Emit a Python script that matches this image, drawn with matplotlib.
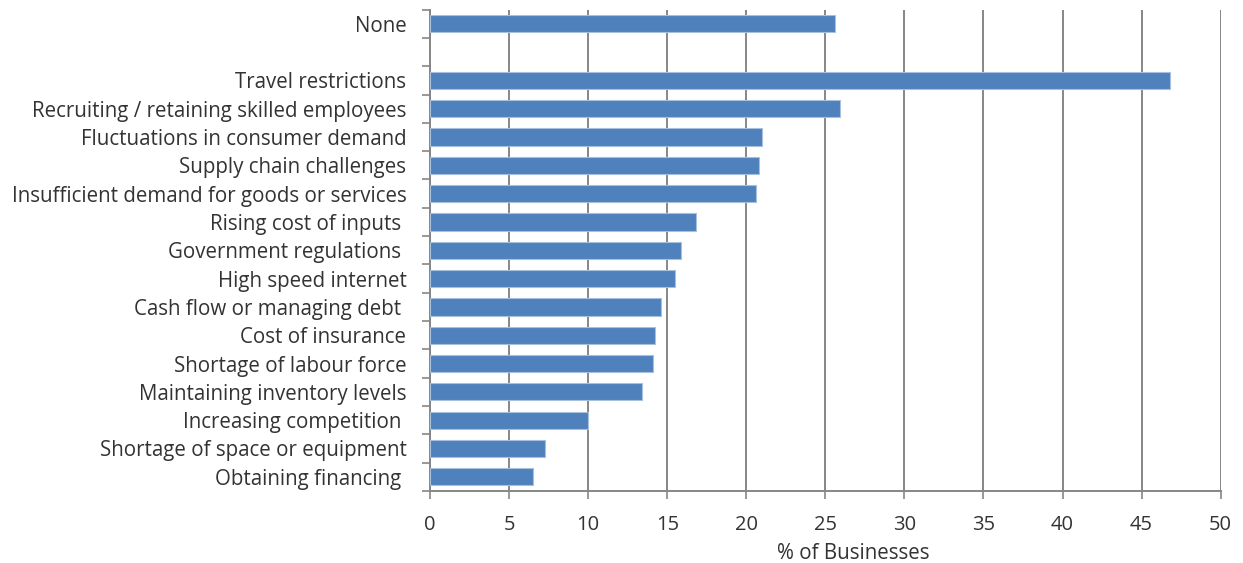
import numpy as np
import matplotlib.pyplot as plt
from matplotlib.ticker import FixedLocator, NullFormatter

# categories from top to bottom; the empty one is the gap under "None"
categories = [
    "None",
    "",
    "Travel restrictions",
    "Recruiting / retaining skilled employees",
    "Fluctuations in consumer demand",
    "Supply chain challenges",
    "Insufficient demand for goods or services",
    "Rising cost of inputs ",
    "Government regulations ",
    "High speed internet",
    "Cash flow or managing debt ",
    "Cost of insurance",
    "Shortage of labour force",
    "Maintaining inventory levels",
    "Increasing competition ",
    "Shortage of space or equipment",
    "Obtaining financing ",
]
values = [25.6, np.nan, 46.8, 25.9, 21.0, 20.8, 20.6, 16.8, 15.9, 15.5,
          14.6, 14.2, 14.1, 13.4, 10.0, 7.3, 6.5]

plt.rcParams['font.family'] = ['Open Sans', 'DejaVu Sans']
text_color = "#333333"
grid_color = "#868686"

fig = plt.figure(figsize=(12.43, 5.63), dpi=100)
ax = fig.add_axes([0.346, 0.128, 0.636, 0.855])

n = len(categories)
pos = np.arange(n)[::-1]
ax.barh(pos, values, height=0.61, color="#4F81BD", edgecolor="#A7C0DE",
        linewidth=0.8, zorder=3)

ax.set_xlim(0, 50)
ax.set_ylim(-0.5, n - 0.5)
ax.set_xticks(np.arange(0, 51, 5))
ax.set_yticks(pos)
ax.set_yticklabels(categories)
ax.yaxis.set_minor_locator(FixedLocator(np.arange(-0.5, n, 1.0)))
ax.yaxis.set_minor_formatter(NullFormatter())

ax.tick_params(axis='y', which='major', length=0, pad=17, labelsize=14.8,
               labelcolor=text_color)
ax.tick_params(axis='y', which='minor', length=6, width=1.2, color=grid_color)
ax.tick_params(axis='x', which='major', length=6, width=1.2, color=grid_color,
               pad=11, labelsize=14.5, labelcolor=text_color)

ax.grid(axis='x', color=grid_color, linewidth=1.4, zorder=0)
for s in ['top', 'right']:
    ax.spines[s].set_visible(False)
for s in ['left', 'bottom']:
    ax.spines[s].set_color(grid_color)
    ax.spines[s].set_linewidth(1.4)

ax.set_xlabel("% of Businesses", fontsize=14.8, color=text_color, labelpad=6,
              x=0.535)

fig.savefig("out.png", dpi=100)
